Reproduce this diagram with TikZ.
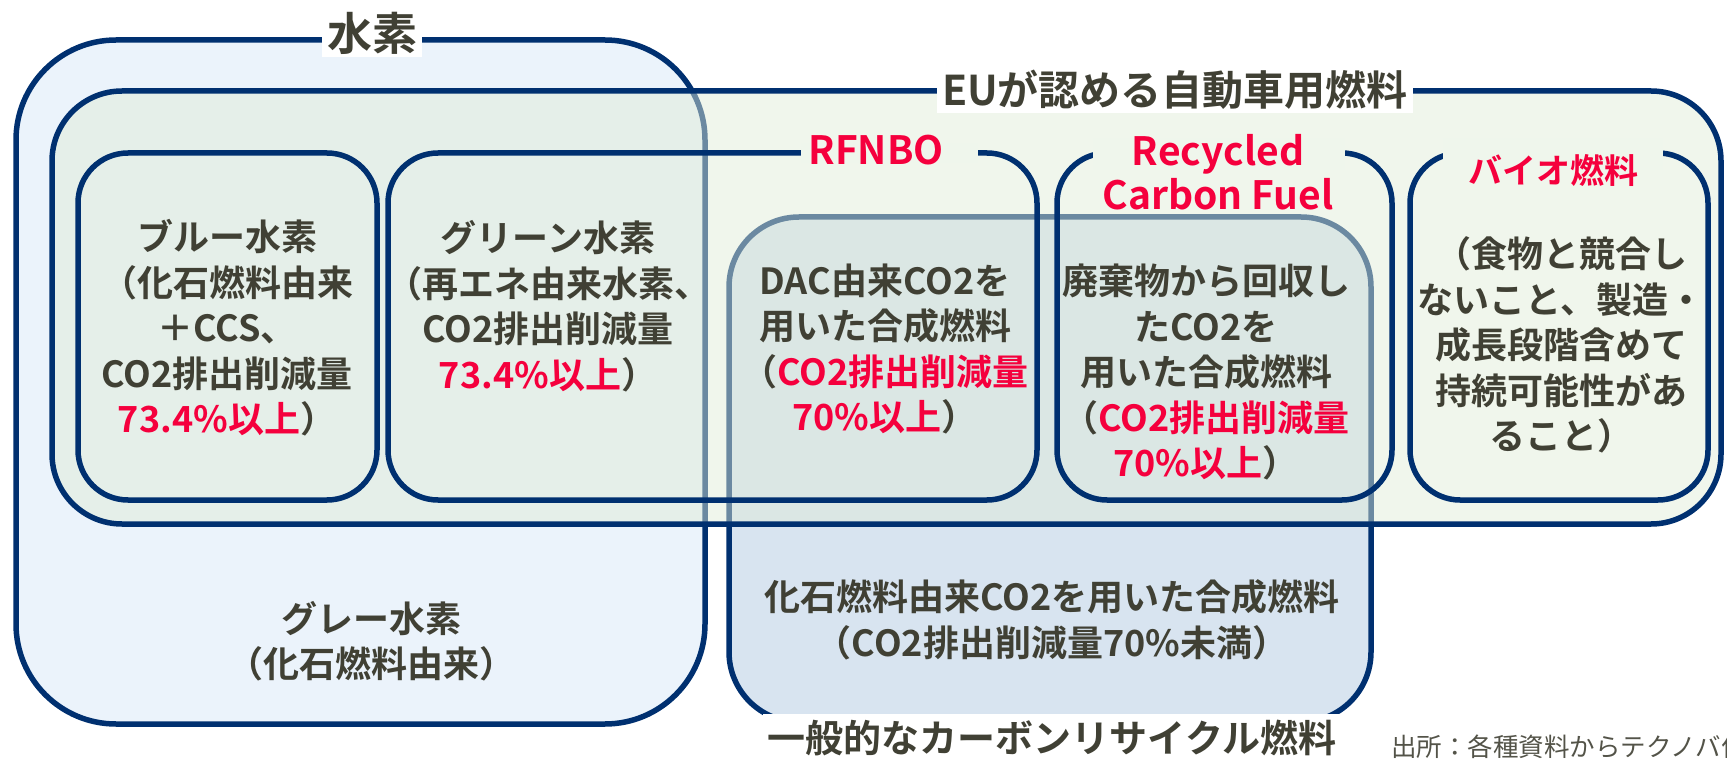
\documentclass[tikz,border=0pt]{standalone}
\usepackage{fontspec}
\setmainfont{Noto Sans CJK JP}[BoldFont={* Bold}]
\definecolor{navy}{HTML}{003070}
\definecolor{ink}{HTML}{404034}
\definecolor{accent}{HTML}{F5003D}
\definecolor{h2fill}{HTML}{EBF3FB}
\definecolor{eufill}{HTML}{E0ECD7}
\definecolor{euonly}{HTML}{EFF6EC}
\definecolor{ccfill}{HTML}{D8E4F0}
\newcommand\hl[1]{\textcolor{accent}{#1}}
\begin{document}
\begin{tikzpicture}[x=1pt,y=-1pt,
  outerbox/.style={draw=navy, line width=5.5pt},
  innerbox/.style={draw=navy, line width=5.5pt, rounded corners=50pt},
  txt/.style={text=ink, font=\bfseries\fontsize{36}{45.5}\selectfont, align=center, inner sep=0pt},
  title/.style={text=ink, font=\bfseries\fontsize{#1}{#1}\selectfont, fill=white, inner xsep=5pt, inner ysep=3pt},
  redlabel/.style={text=accent, font=\bfseries\fontsize{#1}{44}\selectfont, align=center, inner sep=0pt},
  gap/.style={fill=euonly}]
\useasboundingbox (0,0) rectangle (1727,759);
\begin{scope}
\clip (0,0) rectangle (1727,759);
% hydrogen
\draw[outerbox, fill=h2fill, rounded corners=100pt] (16,40) rectangle (705,724);
% general carbon recycled fuel
\draw[outerbox, fill=ccfill, rounded corners=70pt] (729,217) rectangle (1371,722);
% EU fuels (semi transparent)
\fill[eufill, fill opacity=0.48, rounded corners=70pt] (52,91) rectangle (1721,524);
\draw[outerbox, rounded corners=70pt] (52,91) rectangle (1721,524);
% inner boxes
\draw[innerbox] (78,153) rectangle (377,500);
\draw[innerbox] (388,153) rectangle (1037,500);
\draw[innerbox] (1057,153) rectangle (1392,500);
\draw[innerbox] (1410,153) rectangle (1708,500);
% label gaps
\fill[gap] (801,143) rectangle (978,163);
\fill[gap] (1093,138) rectangle (1345,170);
\fill[gap] (1443,138) rectangle (1663,170);
% titles
\node[title=45] (tH2) at (372,33) {水素};
\node[title=41] (tEU) at (1175,90) {EUが認める自動車用燃料};
\node[title=38, inner ysep=6pt] (tCC) at (1052,738) {一般的なカーボンリサイクル燃料};
\node[redlabel=39] (tRF) at (876,150) {RFNBO};
\node[redlabel=39] (tRC) at (1218,172) {Recycled\\Carbon Fuel};
\node[redlabel=34] (tBio) at (1553,170) {バイオ燃料};
% contents
\node[txt] (blue) at (227,328) {ブルー水素\\（化石燃料由来\\＋CCS、\\CO2排出削減量\\\hl{73.4\%以上}）};
\node[txt] (green) at (548,306) {グリーン水素\\（再エネ由来水素、\\CO2排出削減量\\\hl{73.4\%以上}）};
\node[txt] (dac) at (885,349) {DAC由来CO2を\\用いた合成燃料\\（\hl{CO2排出削減量}\\\hl{70\%以上}）};
\node[txt] (rcf) at (1206,372) {廃棄物から回収し\\たCO2を\\用いた合成燃料\\（\hl{CO2排出削減量}\\\hl{70\%以上}）};
\node[txt] (bio) at (1561,345) {（食物と競合し\\ないこと、製造・\\成長段階含めて\\持続可能性があ\\ること）};
\node[txt] (fossil) at (1052,620) {化石燃料由来CO2を用いた合成燃料\\（CO2排出削減量70\%未満）};
\node[txt] (grey) at (371,641) {グレー水素\\（化石燃料由来）};
\node[text=ink!90, font=\fontsize{25.5}{25.5}\selectfont, anchor=west, inner sep=0pt] (src) at (1391,747) {出所：各種資料からテクノバ作};
\end{scope}
\end{tikzpicture}
\end{document}
